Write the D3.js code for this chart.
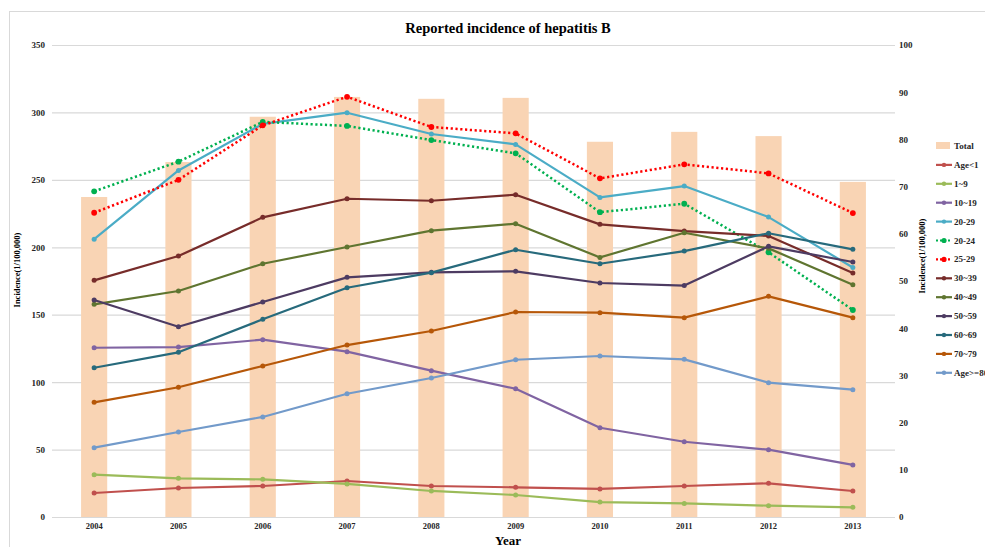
<!DOCTYPE html>
<html>
<head>
<meta charset="utf-8">
<script src="https://cdn.jsdelivr.net/npm/d3@7"></script>
<style>
  body { margin: 0; background: #fff; }
  text { font-family: "Liberation Serif", "DejaVu Serif", serif; }
</style>
</head>
<body>
<div id="chart"></div>
<script>
// years on the x axis
const years = ["2004", "2005", "2006", "2007", "2008", "2009", "2010", "2011", "2012", "2013"];

// Total, read against the right axis
const total = [67.8, 75.2, 84.8, 89.0, 88.6, 88.8, 79.5, 81.6, 80.7, 71.0];

// age groups, read against the left axis
const ageLt1 = [17.8, 21.5, 23.0, 26.7, 23.0, 22.0, 20.8, 23.0, 25.0, 19.3];
const age1to9 = [31.4, 28.7, 27.9, 24.5, 19.3, 16.3, 11.1, 10.1, 8.4, 7.2];
const age10to19 = [125.5, 126.0, 131.5, 122.6, 108.5, 95.1, 66.2, 55.8, 49.9, 38.6];
const age20to29 = [206.0, 257.0, 291.5, 299.8, 284.0, 276.3, 237.0, 245.4, 222.4, 185.0];
const age20to24 = [241.5, 263.5, 293.0, 290.0, 279.5, 269.7, 226.0, 232.3, 196.3, 153.5];
const age25to29 = [225.6, 250.0, 290.4, 311.6, 289.2, 284.5, 251.1, 261.5, 254.8, 225.4];
const age30to39 = [175.5, 193.5, 222.2, 236.0, 234.5, 239.0, 217.0, 212.0, 208.4, 181.0];
const age40to49 = [157.7, 167.6, 187.8, 200.2, 212.3, 217.5, 192.5, 210.8, 199.2, 172.3];
const age50to59 = [160.9, 141.1, 159.4, 177.7, 181.4, 182.2, 173.5, 171.6, 200.7, 189.1];
const age60to69 = [110.7, 122.1, 146.6, 170.0, 181.2, 198.2, 187.8, 197.2, 210.4, 198.5];
const age70to79 = [85.0, 96.2, 112.0, 127.5, 137.9, 152.0, 151.5, 147.8, 163.6, 147.8];
const age80plus = [51.4, 63.0, 74.2, 91.4, 103.1, 116.6, 119.4, 116.9, 99.6, 94.4];

const seriesNames = ["Age<1", "1~9", "10~19", "20-29", "20-24", "25-29", "30~39", "40~49", "50~59", "60~69", "70~79", "Age>=80"];
const seriesValues = [ageLt1, age1to9, age10to19, age20to29, age20to24, age25to29, age30to39, age40to49, age50to59, age60to69, age70to79, age80plus];
const seriesColors = ["#c0504d", "#9bbb59", "#8064a2", "#4bacc6", "#00b050", "#ff0000", "#772c2a", "#5f7530", "#4d3b62", "#276a7c", "#b65708", "#729aca"];
const dottedSeries = ["20-24", "25-29"];

const leftTicks = [0, 50, 100, 150, 200, 250, 300, 350];
const rightTicks = [0, 10, 20, 30, 40, 50, 60, 70, 80, 90, 100];

const width = 985;
const height = 547;
const plot = { left: 52, right: 895, top: 45, bottom: 517 };

const svg = d3
  .select("#chart")
  .append("svg")
  .attr("width", width)
  .attr("height", height);

// chart frame
svg
  .append("rect")
  .attr("x", 9.5)
  .attr("y", 11.5)
  .attr("width", 1000)
  .attr("height", 600)
  .attr("fill", "none")
  .attr("stroke", "#d9d9d9");

const x = d3.scaleBand().domain(years).range([plot.left, plot.right]);
const yLeft = d3.scaleLinear().domain([0, 350]).range([plot.bottom, plot.top]);
const yRight = d3.scaleLinear().domain([0, 100]).range([plot.bottom, plot.top]);
const cx = (d) => x(d) + x.bandwidth() / 2;

// gridlines
svg
  .append("g")
  .selectAll("line")
  .data(leftTicks)
  .enter()
  .append("line")
  .attr("x1", plot.left)
  .attr("x2", plot.right)
  .attr("y1", (d) => yLeft(d) + 0.5)
  .attr("y2", (d) => yLeft(d) + 0.5)
  .attr("stroke", "#d9d9d9")
  .attr("stroke-width", 1.2);

// left axis
const leftAxis = svg
  .append("g")
  .attr("transform", "translate(" + (plot.left - 7) + ",0)")
  .call(d3.axisLeft(yLeft).tickValues(leftTicks).tickSize(0).tickPadding(0));
leftAxis.select(".domain").remove();
leftAxis
  .selectAll("text")
  .attr("font-family", "Liberation Serif")
  .attr("font-weight", "bold")
  .attr("font-size", "9px")
  .attr("fill", "#262626");

// right axis
const rightAxis = svg
  .append("g")
  .attr("transform", "translate(" + (plot.right + 4) + ",0)")
  .call(d3.axisRight(yRight).tickValues(rightTicks).tickSize(0).tickPadding(0));
rightAxis.select(".domain").remove();
rightAxis
  .selectAll("text")
  .attr("font-family", "Liberation Serif")
  .attr("font-weight", "bold")
  .attr("font-size", "9px")
  .attr("fill", "#262626");

// x axis
const bottomAxis = svg
  .append("g")
  .attr("transform", "translate(0," + (plot.bottom + 6) + ")")
  .call(d3.axisBottom(x).tickSize(0).tickPadding(0));
bottomAxis.select(".domain").remove();
bottomAxis
  .selectAll("text")
  .attr("font-family", "DejaVu Sans")
  .attr("font-weight", "bold")
  .attr("font-size", "8.5px")
  .attr("fill", "#262626");

// Total bars
const barWidth = x.bandwidth() * 0.31;
svg
  .append("g")
  .selectAll("rect")
  .data(years)
  .enter()
  .append("rect")
  .attr("x", (d) => cx(d) - barWidth / 2)
  .attr("y", (d, i) => yRight(total[i]))
  .attr("width", barWidth)
  .attr("height", (d, i) => plot.bottom - yRight(total[i]))
  .attr("fill", "#f9d4b4");

// age group lines
const line = d3
  .line()
  .x((d, i) => cx(years[i]))
  .y((d) => yLeft(d));

seriesNames.forEach(function (name, s) {
  const dotted = dottedSeries.includes(name);
  const g = svg.append("g");
  g.append("path")
    .datum(seriesValues[s])
    .attr("d", line)
    .attr("fill", "none")
    .attr("stroke", seriesColors[s])
    .attr("stroke-width", dotted ? 2.5 : 2.2)
    .attr("stroke-dasharray", dotted ? "2.2,2.6" : null)
    .attr("stroke-linejoin", "round");
  g.selectAll("circle")
    .data(seriesValues[s])
    .enter()
    .append("circle")
    .attr("cx", (d, i) => cx(years[i]))
    .attr("cy", (d) => yLeft(d))
    .attr("r", dotted ? 2.9 : 2.5)
    .attr("fill", seriesColors[s]);
});

// title and axis titles
svg
  .append("text")
  .attr("x", 508)
  .attr("y", 33)
  .attr("text-anchor", "middle")
  .attr("font-weight", "bold")
  .attr("font-size", "14.5px")
  .attr("fill", "#000")
  .text("Reported incidence of hepatitis B");

svg
  .append("text")
  .attr("x", 508)
  .attr("y", 545)
  .attr("text-anchor", "middle")
  .attr("font-weight", "bold")
  .attr("font-size", "13px")
  .attr("fill", "#000")
  .text("Year");

svg
  .append("text")
  .attr("transform", "translate(20,270) rotate(-90)")
  .attr("text-anchor", "middle")
  .attr("font-weight", "bold")
  .attr("font-size", "8.5px")
  .attr("fill", "#000")
  .text("Incidence(1/100,000)");

svg
  .append("text")
  .attr("transform", "translate(925,256) rotate(-90)")
  .attr("text-anchor", "middle")
  .attr("font-weight", "bold")
  .attr("font-size", "8.5px")
  .attr("fill", "#000")
  .text("Incidence(1/100,000)");

// legend
const legendNames = ["Total"].concat(seriesNames);
const legend = svg
  .append("g")
  .selectAll("g")
  .data(legendNames)
  .enter()
  .append("g")
  .attr("transform", (d, i) => "translate(936," + (146 + i * 18.9) + ")");

legend.each(function (d, i) {
  const item = d3.select(this);
  if (i === 0) {
    item.append("rect").attr("x", 0).attr("y", -4).attr("width", 14).attr("height", 7).attr("fill", "#f9d4b4");
  } else {
    const s = i - 1;
    const dotted = dottedSeries.includes(d);
    item.append("line")
      .attr("x1", 0).attr("x2", 16).attr("y1", 0).attr("y2", 0)
      .attr("stroke", seriesColors[s])
      .attr("stroke-width", 2.2)
      .attr("stroke-dasharray", dotted ? "2,2" : null);
    item.append("circle").attr("cx", 8).attr("cy", 0).attr("r", dotted ? 2.6 : 2.2).attr("fill", seriesColors[s]);
  }
  item.append("text")
    .attr("x", 18)
    .attr("y", 3)
    .attr("font-weight", "bold")
    .attr("font-size", "9px")
    .attr("fill", "#262626")
    .text(d);
});
</script>
</body>
</html>
